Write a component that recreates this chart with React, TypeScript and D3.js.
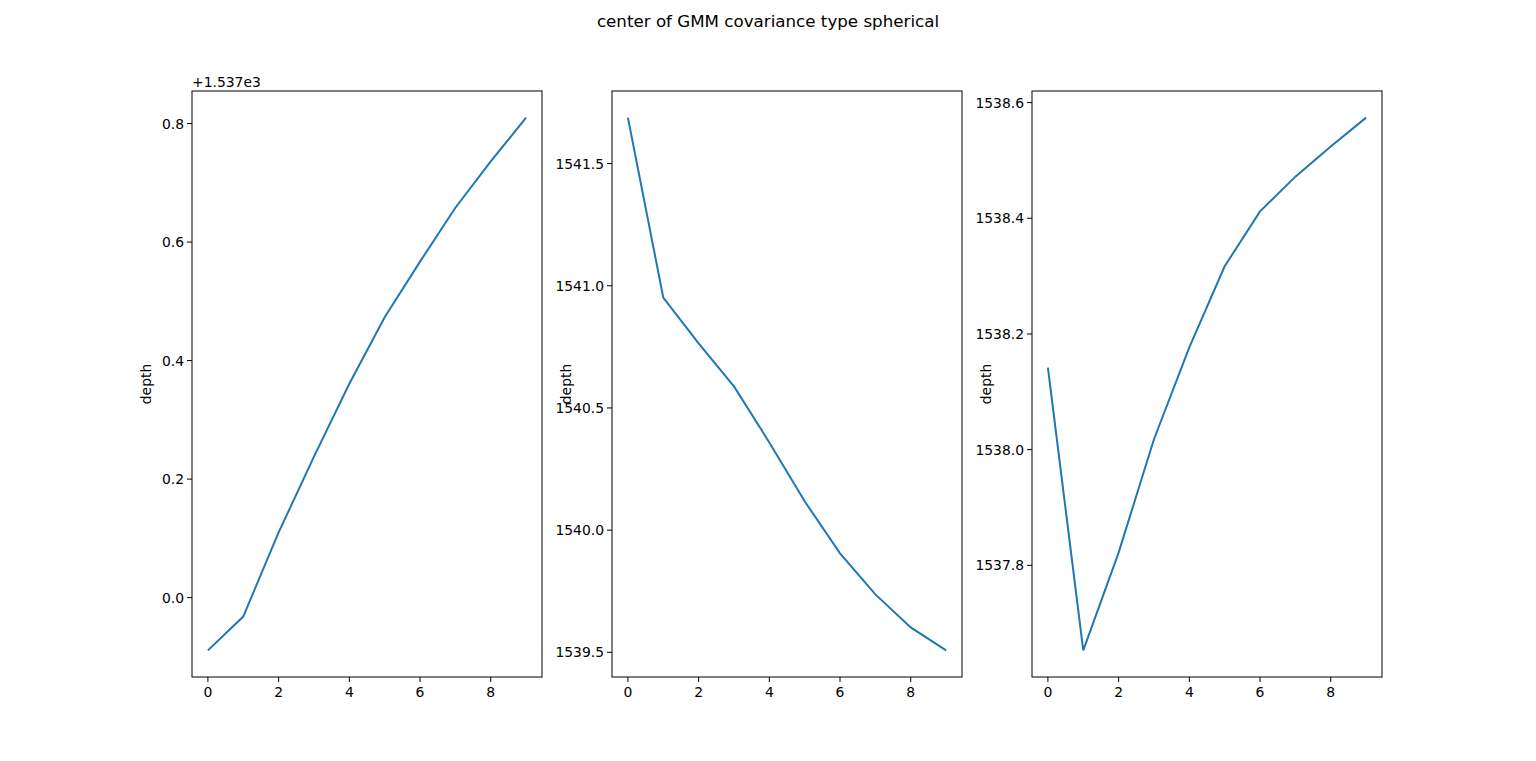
import React from "react";
import * as d3 from "d3";

const xs = [0, 1, 2, 3, 4, 5, 6, 7, 8, 9];
const depth1 = [1536.911, 1536.968, 1537.11, 1537.238, 1537.361, 1537.473, 1537.567, 1537.658, 1537.736, 1537.81];
const depth2 = [1541.688, 1540.952, 1540.764, 1540.588, 1540.359, 1540.118, 1539.905, 1539.737, 1539.602, 1539.508];
const depth3 = [1538.142, 1537.653, 1537.822, 1538.018, 1538.177, 1538.317, 1538.412, 1538.472, 1538.524, 1538.574];
const xTicks = [0, 2, 4, 6, 8];
const ticks1 = [0.0, 0.2, 0.4, 0.6, 0.8];
const ticks2 = [1539.5, 1540.0, 1540.5, 1541.0, 1541.5];
const ticks3 = [1537.8, 1538.0, 1538.2, 1538.4, 1538.6];

const W = 1536, H = 761;
const top = 91, bottom = 677;
const lefts = [192, 612, 1032];
const pw = 350;
const font = "DejaVu Sans, sans-serif";

function Panel({ left, data, ticks, offset, fmt }: { left: number; data: number[]; ticks: number[]; offset: number; fmt: (v: number) => string }) {
  const x = d3.scaleLinear().domain([-0.45, 9.45]).range([left, left + pw]);
  const [lo, hi] = d3.extent(data) as [number, number];
  const pad = (hi - lo) * 0.05;
  const y = d3.scaleLinear().domain([lo - pad, hi + pad]).range([bottom, top]);
  const line = d3.line<number>().x((_, i) => x(xs[i])).y((d) => y(d));
  return (
    <g fontFamily={font} fontSize={13.9} fill="#000">
      <path d={line(data) || ""} fill="none" stroke="#1f77b4" strokeWidth={2} />
      <rect x={left} y={top} width={pw} height={bottom - top} fill="none" stroke="#000" strokeWidth={1} />
      {xTicks.map((t) => (
        <g key={t}>
          <line x1={x(t)} x2={x(t)} y1={bottom} y2={bottom + 5} stroke="#000" />
          <text x={x(t)} y={bottom + 20} textAnchor="middle">{t}</text>
        </g>
      ))}
      {ticks.map((t) => (
        <g key={t}>
          <line x1={left - 5} x2={left} y1={y(t + offset)} y2={y(t + offset)} stroke="#000" />
          <text x={left - 8} y={y(t + offset) + 5} textAnchor="end">{fmt(t)}</text>
        </g>
      ))}
      <text transform={`translate(${left - 41},${(top + bottom) / 2}) rotate(-90)`} textAnchor="middle">depth</text>
    </g>
  );
}

export default function App() {
  return (
    <svg width={W} height={H} style={{ position: "absolute", left: 0, top: 0 }}>
      <rect width={W} height={H} fill="#fff" />
      <text x={768} y={27} textAnchor="middle" fontFamily={font} fontSize={16.7}>center of GMM covariance type spherical</text>
      <text x={192} y={87} fontFamily={font} fontSize={13.9}>+1.537e3</text>
      <Panel left={lefts[0]} data={depth1} ticks={ticks1} offset={1537} fmt={(v) => v.toFixed(1)} />
      <Panel left={lefts[1]} data={depth2} ticks={ticks2} offset={0} fmt={(v) => v.toFixed(1)} />
      <Panel left={lefts[2]} data={depth3} ticks={ticks3} offset={0} fmt={(v) => v.toFixed(1)} />
    </svg>
  );
}
